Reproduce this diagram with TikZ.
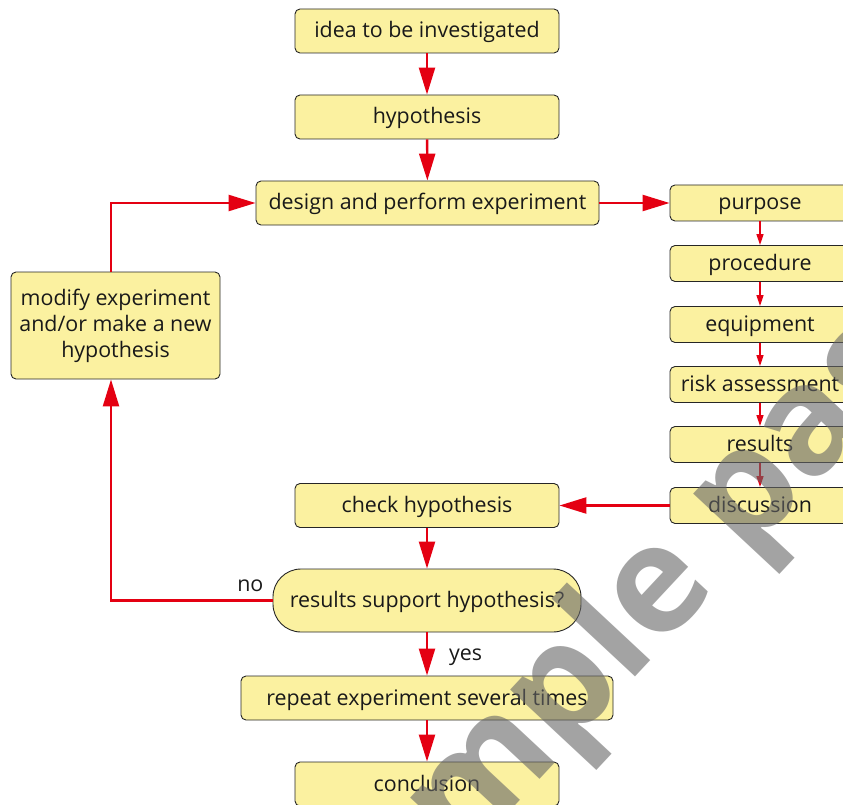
\documentclass[tikz,border=0pt]{standalone}
\usepackage{fontspec}
\setmainfont{Open Sans}
\usetikzlibrary{arrows.meta}
\definecolor{boxfill}{RGB}{251,241,160}
\definecolor{flowred}{RGB}{228,0,18}

\begin{document}
\begin{tikzpicture}[x=1pt, y=-1pt,
	plainbox/.style={draw=black!85, line width=0.9pt, fill=boxfill, rounded corners=5pt,
		minimum height=44pt, inner sep=0pt, text=black!90,
		font=\fontsize{21.4}{26}\selectfont},
	box/.style={plainbox, text height=17.5pt, text depth=3.5pt},
	sidebox/.style={box, minimum width=180pt, minimum height=36pt},
	flow/.style={draw=flowred, line width=2.4pt, -{Triangle[length=27pt, width=16pt]}},
	substep/.style={draw=flowred, line width=1.3pt, -{Triangle[length=11pt, width=7pt]}},
	tag/.style={inner sep=0pt, text=black!90, font=\fontsize{21.4}{26}\selectfont}]
\useasboundingbox (0, 0) rectangle (843, 805);
\clip (0, 0) rectangle (843, 805);

% main column
\node[box, minimum width=264pt] (idea) at (427, 31) {idea to be investigated};
\node[box, minimum width=264pt] (hyp) at (427, 117) {hypothesis};
\node[box, minimum width=343pt] (design) at (427.5, 203) {design and perform experiment};
\node[box, minimum width=264pt] (check) at (427, 505.5) {check hypothesis};
\node[box, minimum width=308pt, minimum height=63pt, rounded corners=28pt]
	(support) at (427, 600.5) {results support hypothesis?};
\node[box, minimum width=372pt] (repeat) at (427, 698) {repeat experiment several times};
\node[box, minimum width=264pt] (concl) at (427, 784) {conclusion};

% side column
\node[sidebox] (purpose) at (760, 203) {purpose};
\node[sidebox] (procedure) at (760, 263.5) {procedure};
\node[sidebox] (equipment) at (760, 324.5) {equipment};
\node[sidebox] (risk) at (760, 384.5) {risk assessment};
\node[sidebox] (results) at (760, 444.5) {results};
\node[sidebox] (discussion) at (760, 505.5) {discussion};

% loop back
\node[plainbox, minimum width=209pt, minimum height=107pt, align=center]
	(modify) at (115.5, 325.5) {modify experiment\\and/or make a new\\hypothesis};

\draw[flow] (idea) -- (hyp);
\draw[flow] (hyp) -- (design);
\draw[flow] (design) -- (purpose);

\draw[substep] (purpose) -- (procedure);
\draw[substep] (procedure) -- (equipment);
\draw[substep] (equipment) -- (risk);
\draw[substep] (risk) -- (results);
\draw[substep] (results) -- (discussion);

\draw[flow] (discussion) -- (check);
\draw[flow] (check) -- (support);
\draw[flow] (support) -- node[tag, anchor=base west, xshift=21pt, yshift=-6pt] {yes} (repeat);
\draw[flow] (repeat) -- (concl);

\draw[flow] (support.west) -| node[tag, pos=0, anchor=base east, xshift=-8pt, yshift=9pt] {no}
	([xshift=-4.5pt]modify.south);
\draw[flow] ([xshift=-4.5pt]modify.north) |- (design);

% watermark
\node[rotate=47, anchor=base west, inner sep=0pt, text=black!60, opacity=0.6,
	font=\fontsize{150}{150}\selectfont\bfseries] (stamp) at (349.5, 983.5) {sample page};

\end{tikzpicture}
\end{document}
